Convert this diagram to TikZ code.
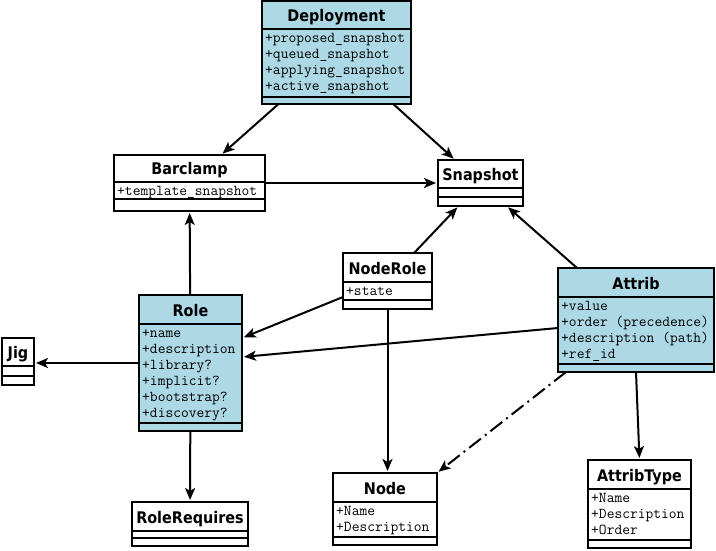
\documentclass[tikz,border=0pt]{standalone}
\usepackage{fontspec}
\setmainfont{DejaVu Sans}
\newfontfamily\titlefont{DejaVu Sans}[FakeStretch=0.9]
\usetikzlibrary{arrows.meta,calc}

\tikzset{
  clsbox/.style={draw=black, line width=2pt, inner sep=0pt, outer sep=0pt},
  clsline/.style={draw=black, line width=2pt},
  clstitle/.style={font=\titlefont\bfseries\fontsize{16}{19}\selectfont, anchor=base, inner sep=0pt},
  clsattr/.style={font=\ttfamily\fontsize{15.1}{16}\selectfont, anchor=north west, align=left, inner sep=0pt},
  assoc/.style={draw=black, line width=2pt, shorten >=2pt, -{Stealth[length=12pt,width=10pt,inset=3pt]}},
  dashdotline/.style={dash pattern=on 15pt off 5pt on 2pt off 5pt},
}
\definecolor{clsblue}{RGB}{173,216,230}

\newcommand\attrline[1]{\vrule height 12pt depth 4pt width 0pt #1}
\newcommand\umlbox[9]{%
  \node[clsbox, fill=#8, minimum width={#4pt-#2pt}, minimum height={#5pt-#3pt}] (#1) at ({(#2+#4)/2},{(#3+#5)/2}) {};
  \draw[clsline] (#2,#6) -- (#4,#6);
  \draw[clsline] (#2,#7) -- (#4,#7);
  \node[clstitle] (#1-title) at ({(#2+#4)/2},{(#3+#6)/2+6.5}) {#9};
}

\begin{document}
\begin{tikzpicture}[x=1pt,y=-1pt]
\fill[white] (0,0) rectangle (716,551);
\useasboundingbox (0,0) rectangle (716,551);

% classes
\umlbox{dep}{262}{1}{411}{104}{29}{97}{clsblue}{Deployment}
\node[clsattr] (dep-attr) at (265,30) {\attrline{+proposed\_snapshot}\\\attrline{+queued\_snapshot}\\\attrline{+applying\_snapshot}\\\attrline{+active\_snapshot}};

\umlbox{bar}{114}{155}{265}{211}{182}{199}{white}{Barclamp}
\node[clsattr] (bar-attr) at (117,183) {\attrline{+template\_snapshot}};

\umlbox{snap}{438}{160}{523}{206}{188}{197}{white}{Snapshot}

\umlbox{nr}{343}{253}{432}{309}{282}{300}{white}{NodeRole}
\node[clsattr] (nr-attr) at (346,283) {\attrline{+state}};

\umlbox{attr}{558}{268}{714}{372}{297}{364}{clsblue}{Attrib}
\node[clsattr] (attr-attr) at (561,298) {\attrline{+value}\\\attrline{+order (precedence)}\\\attrline{+description (path)}\\\attrline{+ref\_id}};

\umlbox{role}{139}{295}{242}{431}{324}{423}{clsblue}{Role}
\node[clsattr] (role-attr) at (142,325) {\attrline{+name}\\\attrline{+description}\\\attrline{+library?}\\\attrline{+implicit?}\\\attrline{+bootstrap?}\\\attrline{+discovery?}};

\umlbox{jig}{2}{338}{34}{385}{366}{376}{white}{Jig}

\umlbox{rr}{132}{502}{248}{546}{531}{538}{white}{RoleRequires}

\umlbox{node}{333}{473}{437}{545}{502}{537}{white}{Node}
\node[clsattr] (node-attr) at (336,503) {\attrline{+Name}\\\attrline{+Description}};

\umlbox{at}{588}{460}{691}{548}{489}{540}{white}{AttribType}
\node[clsattr] (at-attr) at (591,490) {\attrline{+Name}\\\attrline{+Description}\\\attrline{+Order}};

% connectors
\draw[assoc] (dep) -- (bar);
\draw[assoc] (dep) -- (snap);
\draw[assoc] (bar) -- (snap);
\draw[assoc] (nr) -- (snap);
\draw[assoc] (attr) -- (snap);
\draw[assoc] (role) -- (bar);
\draw[assoc] ($(nr.west)+(0,16)$) -- ($(role.east)+(0,-25)$);
\draw[assoc] ($(attr.west)+(0,8)$) -- ($(role.east)+(0,-6)$);
\draw[assoc] (role.west) -- (role.west -| jig.east);
\draw[assoc] (role) -- (rr);
\draw[assoc] (nr.south) -- (nr.south |- node.north);
\draw[assoc, dashdotline] ($(attr.south west)+(8,0)$) -- (node.north east);
\draw[assoc] (attr.south) -- (at.north);
\end{tikzpicture}
\end{document}
